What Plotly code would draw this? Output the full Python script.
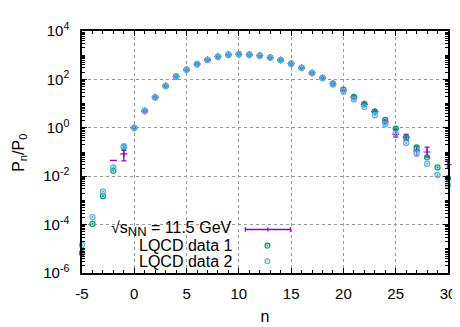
import plotly.graph_objects as go

# ---- data ----
n_vals = list(range(-5, 31))

lqcd1 = [6.6e-6, 1.07e-4, 1.5e-3, 1.66e-2, 0.158, 1.0, 5.0, 18.2, 53.7, 132,
         251, 427, 646, 871, 1047, 1096, 1047, 955, 794, 631,
         447, 302, 186, 115, 66, 38, 19.1, 9.8, 4.7, 2.14,
         0.93, 0.40, 0.155, 0.060, 0.023, 0.0083]

lqcd2 = [1.45e-5, 2.04e-4, 2.34e-3, 2.29e-2, 0.174, 1.0, 5.0, 18.2, 53.7, 132,
         251, 427, 646, 871, 1047, 1096, 1047, 955, 794, 631,
         447, 302, 186, 113, 62, 31, 14.8, 7.2, 3.3, 1.41,
         0.575, 0.234, 0.087, 0.033, 0.0112, 0.0041]

main_n = [-1, 0, 1, 2, 3, 4, 5, 6, 7, 8, 9, 10, 11, 12, 13, 14, 15, 16, 17, 18, 19,
          20, 21, 22, 23, 24, 25, 26, 27, 28, 30]
main_val = [0.083, 1.0, 5.0, 18.2, 53.7, 132, 251, 427, 646, 871, 1047, 1096, 1047,
            955, 794, 631, 447, 302, 186, 115, 66,
            34.7, 18.2, 9.3, 4.7, 1.74, 0.54, 0.41, 0.112, 0.10, 0.030]
main_err_plus = [0.034, 0.01, 0.05, 0.18, 0.5, 1.3, 2.5, 4.3, 6.5, 8.7, 10, 11, 10,
                 10, 8, 6, 5, 3, 2, 1.5, 1.5,
                 3.3, 2.2, 1.5, 0.77, 0.35, 0.33, 0.13, 0.062, 0.058, 0.013]
main_err_minus = [0.040, 0.01, 0.05, 0.18, 0.5, 1.3, 2.5, 4.3, 6.5, 8.7, 10, 11, 10,
                  10, 8, 6, 5, 3, 2, 1.5, 1.5,
                  3.0, 2.0, 1.3, 0.65, 0.29, 0.12, 0.11, 0.041, 0.038, 0.009]
# lone upper error-bar cap visible at n = -2
main_cap_n = [-2]
main_cap_val = [0.045]

x_tick_vals = [-5, 0, 5, 10, 15, 20, 25, 30]
x_tick_text = ["-5", "0", "5", "10", "15", "20", "25", "30"]
y_tick_vals = [1e-6, 1e-4, 1e-2, 1e0, 1e2, 1e4]
y_tick_text = ["10<sup>-6</sup>", "10<sup>-4</sup>", "10<sup>-2</sup>",
               "10<sup>0</sup>", "10<sup>2</sup>", "10<sup>4</sup>"]

y_title = "P<sub>n</sub>/P<sub>0</sub>"
x_title = "n"
label_main = "\u221as<sub><span style='font-size:13px'>NN</span></sub> = 11.5 GeV"
label_1 = "LQCD data 1"
label_2 = "LQCD data 2"

PURPLE = "#9400d3"
GREEN = "#009e73"
BLUE = "#56b4e9"
FONT = "Liberation Sans, Arial, sans-serif"

fig = go.Figure()

fig.add_trace(go.Scatter(
    x=main_n, y=main_val, mode="markers", cliponaxis=False,
    marker=dict(symbol="cross-thin", size=5, line=dict(color=PURPLE, width=1.2), color=PURPLE),
    error_y=dict(type="data", array=main_err_plus, arrayminus=main_err_minus,
                 color=PURPLE, thickness=1.3, width=2.5),
    showlegend=False))
fig.add_trace(go.Scatter(
    x=main_cap_n, y=main_cap_val, mode="markers", cliponaxis=False,
    marker=dict(symbol="line-ew", size=5, line=dict(color=PURPLE, width=1.3)),
    showlegend=False))
fig.add_trace(go.Scatter(
    x=n_vals, y=lqcd1, mode="markers", cliponaxis=False,
    marker=dict(symbol="circle-open-dot", size=5, color=GREEN, line=dict(color=GREEN, width=1.3)),
    showlegend=False))
fig.add_trace(go.Scatter(
    x=n_vals, y=lqcd2, mode="markers", cliponaxis=False,
    marker=dict(symbol="circle-open-dot", size=5, color=BLUE, line=dict(color=BLUE, width=1.3)),
    showlegend=False))

# ---- custom gnuplot-style key (text left, sample right) ----
def px_x(p):
    return (p - 74) / 374.0

def px_y(p):
    return (276 - p) / 263.0

shapes = [
    dict(type="rect", xref="paper", yref="paper", x0=px_x(88), x1=px_x(297),
         y0=px_y(274), y1=px_y(218), fillcolor="white", line=dict(width=0), layer="between"),
    # purple errorbar sample
    dict(type="line", xref="paper", yref="paper", x0=px_x(241), x1=px_x(287),
         y0=px_y(228.7), y1=px_y(228.7), line=dict(color=PURPLE, width=1.3)),
    dict(type="line", xref="paper", yref="paper", x0=px_x(241), x1=px_x(241),
         y0=px_y(226.2), y1=px_y(231.2), line=dict(color=PURPLE, width=1.3)),
    dict(type="line", xref="paper", yref="paper", x0=px_x(287), x1=px_x(287),
         y0=px_y(226.2), y1=px_y(231.2), line=dict(color=PURPLE, width=1.3)),
    dict(type="line", xref="paper", yref="paper", x0=px_x(264), x1=px_x(264),
         y0=px_y(226.5), y1=px_y(231), line=dict(color=PURPLE, width=1.2)),
]
for cy, col in [(246.3, GREEN), (263.3, BLUE)]:
    shapes.append(dict(type="circle", xref="paper", yref="paper",
                       xsizemode="pixel", ysizemode="pixel",
                       xanchor=px_x(263.5), yanchor=px_y(cy),
                       x0=-2.4, x1=2.4, y0=-2.4, y1=2.4,
                       line=dict(color=col, width=1.3)))
    shapes.append(dict(type="circle", xref="paper", yref="paper",
                       xsizemode="pixel", ysizemode="pixel",
                       xanchor=px_x(263.5), yanchor=px_y(cy),
                       x0=-0.6, x1=0.6, y0=-0.6, y1=0.6,
                       fillcolor=col, line=dict(color=col, width=0.5)))

annotations = []
for txt, cy in [(label_main, 228.5), (label_1, 246.5), (label_2, 263.5)]:
    annotations.append(dict(text=txt, xref="paper", yref="paper", x=px_x(229), y=px_y(cy),
                            xanchor="right", yanchor="middle", showarrow=False,
                            font=dict(size=16, color="black", family=FONT)))
# y-axis title placed like gnuplot's
annotations.append(dict(text=y_title, xref="paper", yref="paper", x=px_x(10), y=px_y(145),
                        xanchor="center", yanchor="middle", textangle=-90, showarrow=False,
                        font=dict(size=16, color="black", family=FONT)))

fig.update_layout(
    width=460, height=327,
    margin=dict(l=74, r=12, t=13, b=51),
    paper_bgcolor="white", plot_bgcolor="white",
    font=dict(family=FONT, size=15, color="black"),
    shapes=shapes, annotations=annotations,
    showlegend=False,
)

fig.update_xaxes(
    range=[-5, 30], tickvals=x_tick_vals, ticktext=x_tick_text,
    ticks="inside", ticklen=5, tickwidth=1, tickcolor="black",
    minor=dict(dtick=1, tick0=0, ticks="inside", ticklen=3, tickcolor="black", showgrid=False),
    showline=True, linecolor="black", linewidth=1.5, mirror="allticks",
    showgrid=True, gridcolor="#999999", griddash="dot", gridwidth=1,
    zeroline=False, ticklabelstandoff=6,
    title=dict(text=x_title, font=dict(size=16), standoff=10),
    tickfont=dict(size=15),
)
fig.update_yaxes(
    type="log", range=[-6, 4], tickvals=y_tick_vals, ticktext=y_tick_text,
    ticks="inside", ticklen=5, tickwidth=1, tickcolor="black",
    minor=dict(dtick="D1", ticks="inside", ticklen=3, tickcolor="black", showgrid=False),
    showline=True, linecolor="black", linewidth=1.5, mirror="allticks",
    showgrid=True, gridcolor="#999999", griddash="dot", gridwidth=1,
    zeroline=False, ticklabelstandoff=8,
    tickfont=dict(size=15),
)

fig.write_html("out.html")
